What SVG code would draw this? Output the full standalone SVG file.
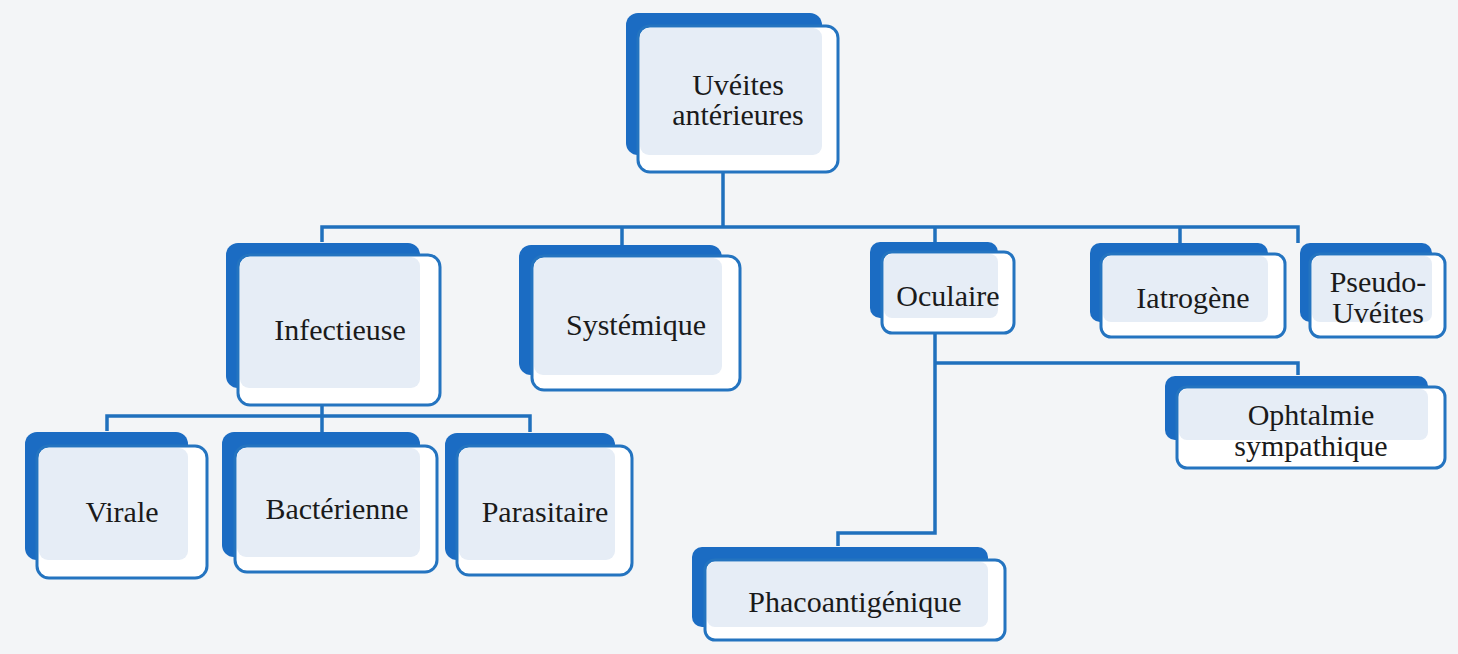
<svg xmlns="http://www.w3.org/2000/svg" width="1458" height="654" viewBox="0 0 1458 654">
<style>
.back{fill:#1b6cc3}
.front{fill:#ffffff;stroke:#2474c0;stroke-width:3}
.inner{fill:#e6edf6}
.lbl{font-family:"Liberation Serif","DejaVu Serif",serif;font-size:30px;fill:#1a1a1a;text-anchor:middle}
.conn{fill:none;stroke:#2070bd;stroke-width:3.5}
</style>
<rect x="0" y="0" width="1458" height="654" fill="#f3f5f7"/>
<g id="connectors">
<path class="conn" d="M723,172 V227 M322,242 V227 H1298 V243 M622,227 V245 M935,227 V242 M1180,227 V243"/>
<path class="conn" d="M322,405 V416 M107,431 V416 H530 V432 M322,416 V432"/>
<path class="conn" d="M935,333 V533 H838 V546 M935,363 H1298 V375"/>
</g>
<g id="root">
<rect class="back" x="626" y="13" width="196" height="142" rx="12"/>
<rect class="front" x="638" y="26" width="200" height="146" rx="12"/>
<rect class="inner" x="640" y="28" width="182" height="127" rx="9"/>
<text class="lbl" x="738" y="95">Uvéites</text>
<text class="lbl" x="738" y="125">antérieures</text>
</g>
<g id="infectieuse">
<rect class="back" x="226" y="243" width="194" height="145" rx="12"/>
<rect class="front" x="238" y="255" width="202" height="150" rx="12"/>
<rect class="inner" x="240" y="257" width="180" height="131" rx="9"/>
<text class="lbl" x="340" y="340">Infectieuse</text>
</g>
<g id="systemique">
<rect class="back" x="519" y="245" width="203" height="130" rx="12"/>
<rect class="front" x="532" y="256" width="208" height="134" rx="12"/>
<rect class="inner" x="534" y="258" width="188" height="117" rx="9"/>
<text class="lbl" x="636" y="335">Systémique</text>
</g>
<g id="oculaire">
<rect class="back" x="870" y="242" width="128" height="76" rx="10"/>
<rect class="front" x="882" y="252" width="132" height="81" rx="10"/>
<rect class="inner" x="884" y="254" width="114" height="64" rx="8"/>
<text class="lbl" x="948" y="306">Oculaire</text>
</g>
<g id="iatrogene">
<rect class="back" x="1090" y="243" width="178" height="79" rx="10"/>
<rect class="front" x="1101" y="254" width="184" height="83" rx="10"/>
<rect class="inner" x="1103" y="256" width="165" height="66" rx="8"/>
<text class="lbl" x="1193" y="308">Iatrogène</text>
</g>
<g id="pseudo">
<rect class="back" x="1300" y="243" width="132" height="79" rx="10"/>
<rect class="front" x="1310" y="254" width="135" height="83" rx="10"/>
<rect class="inner" x="1312" y="256" width="120" height="66" rx="8"/>
<text class="lbl" x="1378" y="292">Pseudo-</text>
<text class="lbl" x="1378" y="323">Uvéites</text>
</g>
<g id="ophtalmie">
<rect class="back" x="1165" y="376" width="263" height="64" rx="10"/>
<rect class="front" x="1177" y="387" width="268" height="81" rx="10"/>
<rect class="inner" x="1179" y="389" width="249" height="51" rx="8"/>
<text class="lbl" x="1311" y="425">Ophtalmie</text>
<text class="lbl" x="1311" y="456">sympathique</text>
</g>
<g id="phacoantigenique">
<rect class="back" x="692" y="547" width="296" height="80" rx="10"/>
<rect class="front" x="705" y="560" width="300" height="80" rx="10"/>
<rect class="inner" x="707" y="562" width="281" height="65" rx="8"/>
<text class="lbl" x="855" y="612">Phacoantigénique</text>
</g>
<g id="virale">
<rect class="back" x="25" y="432" width="163" height="128" rx="12"/>
<rect class="front" x="37" y="446" width="170" height="132" rx="12"/>
<rect class="inner" x="39" y="448" width="149" height="112" rx="9"/>
<text class="lbl" x="122" y="522">Virale</text>
</g>
<g id="bacterienne">
<rect class="back" x="222" y="432" width="198" height="125" rx="12"/>
<rect class="front" x="235" y="446" width="202" height="126" rx="12"/>
<rect class="inner" x="237" y="448" width="183" height="109" rx="9"/>
<text class="lbl" x="337" y="519">Bactérienne</text>
</g>
<g id="parasitaire">
<rect class="back" x="445" y="433" width="170" height="127" rx="12"/>
<rect class="front" x="457" y="446" width="175" height="129" rx="12"/>
<rect class="inner" x="459" y="448" width="156" height="112" rx="9"/>
<text class="lbl" x="545" y="522">Parasitaire</text>
</g>
</svg>
